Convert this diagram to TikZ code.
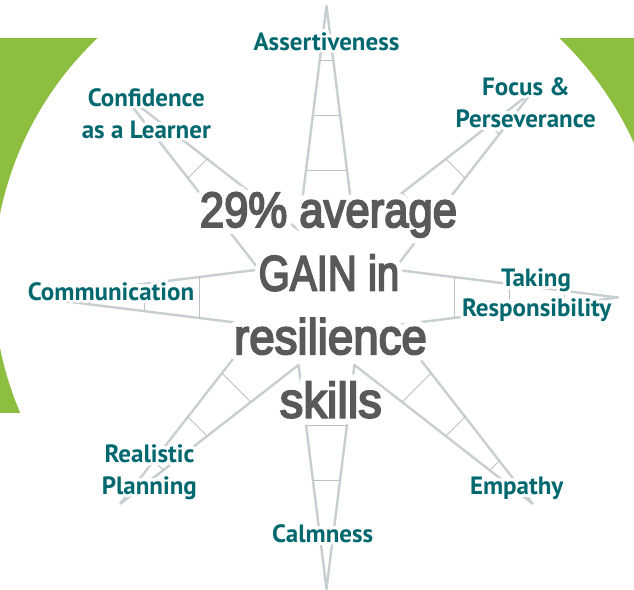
\documentclass[tikz,border=0pt]{standalone}
\usepackage{fontspec}
\setmainfont{PT Sans}
\newfontfamily\labfont{PT Sans}
\newfontfamily\bigfont[FakeBold=4]{Liberation Sans}
\usepackage{contour}
\contournumber{32}
\usetikzlibrary{calc}
\definecolor{bggreen}{RGB}{141,190,64}
\definecolor{labteal}{RGB}{0,104,110}
\definecolor{spokegray}{RGB}{200,207,211}
\definecolor{runggray}{RGB}{190,194,197}
\definecolor{textgray}{RGB}{88,89,91}
\newcommand{\lblhalo}[1]{\contourlength{3pt}\contour{white}{#1}}
\newcommand{\bighalo}[2]{\scalebox{#1}[1]{\contourlength{6pt}\contour{white}{#2}}}
\tikzset{
  lab/.style={font=\labfont\bfseries\fontsize{25}{31.5}\selectfont, text=labteal, inner sep=0pt, anchor=base},
  big/.style={font=\bigfont\fontsize{49.6}{63.5}\selectfont, text=textgray, inner sep=0pt, anchor=base},
  side/.style={draw=spokegray, line width=2.4pt, line join=round},
  rungline/.style={draw=runggray, line width=0.9pt},
}
\begin{document}
\begin{tikzpicture}[x=1pt,y=-1pt]
\useasboundingbox (0,0) rectangle (634,589);
\fill[white] (0,0) rectangle (634,589);
% green background with white disc
\begin{scope}
  \clip (0,38.3) rectangle (634,413.3);
  \fill[bggreen] (0,38.3) rectangle (634,413.3);
  \fill[white] (328.4,281) circle (335);
\end{scope}
% star
\coordinate (C) at (326.5,297.5);
\foreach \k in {0,...,7}{
  \coordinate (t\k) at ($(C)+(\k*45:291.5)$);
  \coordinate (v\k) at ($(C)+(\k*45+22.5:73)$);
}
\draw[side] (t0)--(v0)--(t1)--(v1)--(t2)--(v2)--(t3)--(v3)--(t4)--(v4)--(t5)--(v5)--(t6)--(v6)--(t7)--(v7)--cycle;
\foreach \k in {0,...,7}{
  \foreach \d/\w in {127.5/20.45,182.5/13.59,237.5/6.73}{
    \draw[rungline] ($(C)+(\k*45:\d)+(\k*45+90:\w)$) -- ($(C)+(\k*45:\d)+(\k*45-90:\w)$);
  }
}
% labels
\node[lab] (as1) at (326.5,50) {\lblhalo{Assertiveness}};
\node[lab] (cf1) at (146.3,106) {\lblhalo{Confidence}};
\node[lab] (cf2) at (146.3,138.3) {\lblhalo{as a Learner}};
\node[lab] (fo1) at (526,95) {\lblhalo{Focus \&}};
\node[lab] (fo2) at (525.8,127.7) {\lblhalo{Perseverance}};
\node[lab] (co1) at (111,300) {\lblhalo{Communication}};
\node[lab] (ta1) at (536,286.7) {\lblhalo{Taking}};
\node[lab] (ta2) at (536.7,316.5) {\lblhalo{Responsibility}};
\node[lab] (re1) at (149.5,462.7) {\lblhalo{Realistic}};
\node[lab] (re2) at (149.3,494) {\lblhalo{Planning}};
\node[lab] (ca1) at (322.7,542.7) {\lblhalo{Calmness}};
\node[lab] (em1) at (516.7,494.3) {\lblhalo{Empathy}};
% central text
\node[big] (c1) at (328.5,227) {\bighalo{0.88}{29\% average}};
\node[big] (c2) at (329,290.5) {\bighalo{0.81}{GAIN in}};
\node[big] (c3) at (330.5,354) {\bighalo{0.92}{resilience}};
\node[big] (c4) at (330.8,417.5) {\bighalo{0.95}{skills}};
\end{tikzpicture}
\end{document}
